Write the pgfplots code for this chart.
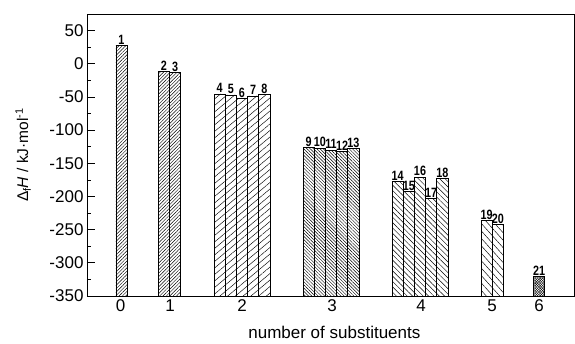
\documentclass[border=0pt]{standalone}
\usepackage{fontspec}
\setmainfont{Liberation Sans}
\newfontfamily\lblfont{Liberation Sans}[FakeStretch=0.8]
\usepackage{pgfplots}
\pgfplotsset{compat=1.18}
\usepackage{pgfplotstable}
\usetikzlibrary{patterns.meta,calc}

% x positions are in picture units; y values in kJ/mol
\pgfplotstableread{
x y label
121.5 27.5 1
163.8 -12 2
175.2 -13 3
}\groupA
\pgfplotstableread{
x y label
219.6 -45.5 4
230.8 -47 5
242.0 -52.5 6
253.2 -48.5 7
264.4 -46 8
}\groupB
\pgfplotstableread{
x y label
308.6 -126.6 9
319.8 -127 10
331.0 -130 11
342.2 -132 12
353.4 -128 13
}\groupC
\pgfplotstableread{
x y label
397.6 -177 14
408.8 -193 15
420.0 -171 16
431.2 -203 17
442.4 -173 18
}\groupD
\pgfplotstableread{
x y label
486.6 -236 19
497.8 -242 20
}\groupE
\pgfplotstableread{
x y label
539.0 -321 21
}\groupF

\begin{document}
\begin{tikzpicture}
\begin{axis}[
  scale only axis, width=487bp, height=282bp,
  xmin=87, xmax=574, ymin=0, ymax=425,
  axis line style={line width=0.9pt},
  xtick={120.5,170,242,332,421,492,539},
  xticklabels={0,1,2,3,4,5,6},
  xtick style={draw=none},
  ytick={0,50,...,400},
  yticklabels={-350,-300,-250,-200,-150,-100,-50,0,50},
  minor y tick num=1,
  tick pos=left, tick align=inside,
  major tick length=8bp, minor tick length=4bp,
  ytick style={line width=0.7pt, black},
  minor y tick style={line width=0.7pt, black},
  tick label style={font=\fontsize{17bp}{17bp}\selectfont},
  xlabel={number of substituents},
  ylabel={Δ\textsubscript{f}\textit{H} / kJ·mol\textsuperscript{-1}},
  every axis x label/.style={at={(axis description cs:0.508,-0.128)}, anchor=center,
     font=\fontsize{17bp}{17bp}\selectfont},
  every axis y label/.style={at={(axis description cs:-0.131,0.5)}, anchor=center, rotate=90,
     font=\fontsize{15.5bp}{15.5bp}\selectfont},
  every node near coord/.append style={font=\lblfont\bfseries\fontsize{13.5bp}{13.5bp}\selectfont, inner sep=0.8pt, black},
  clip=false,
]
\pgfplotsset{barst/.style={ybar, bar width=11.2, bar shift=0pt, draw=black, line width=0.7pt,
   y filter/.expression={y+350}, nodes near coords, point meta=explicit symbolic}}
\addplot[barst, pattern={Lines[angle=45,distance=2.4pt,line width=0.45pt]}]
  table[x=x,y=y,meta=label]{\groupA};
\addplot[barst, pattern={Lines[angle=40,distance=5pt,line width=0.45pt]}]
  table[x=x,y=y,meta=label]{\groupB};
\addplot[barst, pattern={Lines[angle=-45,distance=2.3pt,line width=0.45pt]}]
  table[x=x,y=y,meta=label]{\groupC};
\addplot[barst, pattern={Lines[angle=-45,distance=3.8pt,line width=0.45pt]}]
  table[x=x,y=y,meta=label]{\groupD};
\addplot[barst, pattern={Lines[angle=-48,distance=5pt,line width=0.45pt]}]
  table[x=x,y=y,meta=label]{\groupE};
\addplot[barst, pattern={Lines[angle=45,distance=1.8pt,line width=0.4pt]},
  postaction={pattern={Lines[angle=-45,distance=1.8pt,line width=0.4pt]}}]
  table[x=x,y=y,meta=label]{\groupF};
\end{axis}
\pgfresetboundingbox
\path ($(current axis.south west)+(-87bp,-48bp)$) rectangle ($(current axis.north east)+(1bp,14bp)$);
\end{tikzpicture}
\end{document}
